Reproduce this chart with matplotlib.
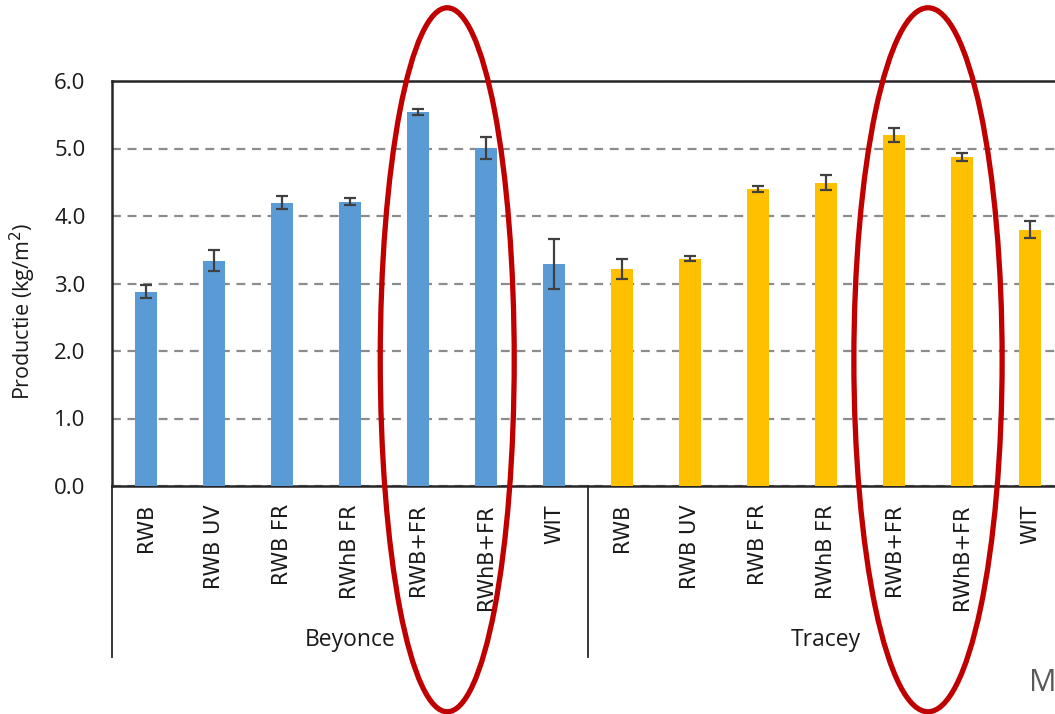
import matplotlib.pyplot as plt
import numpy as np
from matplotlib.patches import Ellipse
from matplotlib.transforms import blended_transform_factory

# Data (Productie in kg/m2, error bar half-widths)
treatments = ['RWB', 'RWB UV', 'RWB FR', 'RWhB FR', 'RWB+FR', 'RWhB+FR', 'WIT']
groups = ['Beyonce', 'Tracey']

beyonce_mean = [2.88, 3.34, 4.20, 4.21, 5.54, 5.01, 3.29]
beyonce_err = [0.10, 0.15, 0.09, 0.05, 0.05, 0.16, 0.37]
tracey_mean = [3.22, 3.37, 4.40, 4.49, 5.20, 4.87, 3.80]
tracey_err = [0.15, 0.04, 0.04, 0.11, 0.11, 0.06, 0.12]

group_colors = ['#5B9BD5', '#FFC000']

# red ellipses highlight these treatments
highlight = ['RWB+FR', 'RWhB+FR']

fig = plt.figure(figsize=(10.55, 7.14), dpi=100)
# chart is cut off on the right, so the axes run to the figure edge
ax = fig.add_axes([112 / 1055, 1 - 486 / 714, 943 / 1055, 405 / 714])

n = len(treatments)
means = [beyonce_mean, tracey_mean]
errs = [beyonce_err, tracey_err]
for g in range(len(groups)):
    x = np.arange(n) + g * n
    ax.bar(x, means[g], width=0.32, color=group_colors[g], zorder=3)
    ax.errorbar(x, means[g], yerr=errs[g], fmt='none', ecolor='#404040',
                elinewidth=1.6, capsize=4.5, capthick=1.6, zorder=4)

ax.set_ylim(0, 6)
ax.set_xlim(-0.5, -0.5 + 943 / 68)
ax.set_yticks(np.arange(0, 6.1, 1.0))
ax.set_yticklabels([f'{v:.1f}' for v in np.arange(0, 6.1, 1.0)],
                   fontfamily='Open Sans', fontsize=16, color='#1a1a1a')
ax.tick_params(axis='y', length=0, pad=19)

ax.set_xticks(np.arange(n * len(groups)))
ax.set_xticklabels(treatments * len(groups), rotation=90, fontfamily='DejaVu Sans',
                   fontsize=15, color='#1a1a1a')
ax.tick_params(axis='x', length=0, pad=13)

ax.set_ylabel('Productie (kg/m$^2$)', fontfamily='Open Sans', fontsize=15.5,
              color='#1a1a1a')
ax.yaxis.set_label_coords(-0.078, 0.43)

ax.yaxis.grid(True, linestyle=(0, (4, 3)), linewidth=1.6, color='#8c8c8c', zorder=0)
ax.set_axisbelow(True)
for side in ['top', 'left', 'bottom']:
    ax.spines[side].set_linewidth(1.8)
    ax.spines[side].set_color('#262626')
ax.spines['right'].set_visible(False)

# group separators and group names below the category labels
trans = blended_transform_factory(ax.transData, ax.transAxes)
for g in range(len(groups) + 1):
    xs = g * n - 0.5
    ax.plot([xs, xs], [0, -0.422], transform=trans, color='#262626', lw=1.3,
            clip_on=False)
for g, name in enumerate(groups):
    ax.text(g * n + (n - 1) / 2, -0.38, name, transform=trans, ha='center',
            va='center', fontfamily='Open Sans', fontsize=16.5, color='#1a1a1a')

# start of a label that is cut off on the right
fig.text(1029 / 1055, 1 - 683 / 714, 'M', ha='left', va='center',
         fontfamily='Open Sans', fontsize=22, color='#595959')

# red ellipses around the highlighted treatments (both groups)
for g, w in zip(range(len(groups)), [1.97, 2.18]):
    i0 = treatments.index(highlight[0]) + g * n
    i1 = treatments.index(highlight[1]) + g * n
    e = Ellipse(((i0 + i1) / 2 - 0.07 * (1 - g), 1.87), width=w, height=10.43,
                fill=False, edgecolor='#C00000', lw=3.8, clip_on=False, zorder=6)
    ax.add_patch(e)

fig.savefig('out.png', dpi=100)
